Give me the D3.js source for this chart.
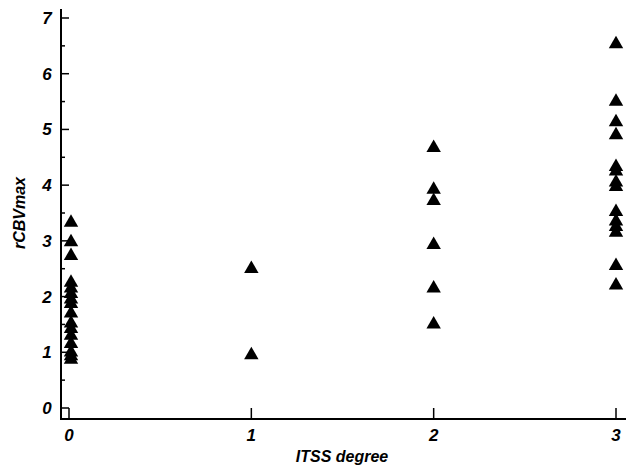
<!DOCTYPE html>
<html><head><meta charset="utf-8">
<script src="https://cdn.jsdelivr.net/npm/d3@7"></script>
<style>body{margin:0;background:#fff}svg{display:block}</style>
</head><body>
<script>
const categories = [0, 1, 2, 3];
const yTicks = [0, 1, 2, 3, 4, 5, 6, 7];
const itss0 = [3.33, 2.98, 2.73, 2.25, 2.15, 2.05, 1.95, 1.87, 1.7, 1.52, 1.42, 1.3, 1.15, 1.0, 0.93, 0.87];
const itss1 = [2.5, 0.95];
const itss2 = [4.67, 3.92, 3.72, 2.93, 2.15, 1.5];
const itss3 = [6.53, 5.5, 5.13, 4.9, 4.33, 4.25, 4.05, 3.97, 3.52, 3.35, 3.25, 3.15, 2.55, 2.2];
const seriesByCat = [itss0, itss1, itss2, itss3];

const W = 626, H = 470;
const svg = d3.select("body").append("svg").attr("width", W).attr("height", H);
const x = d3.scaleLinear().domain([0, 3]).range([69, 616]);
const y = d3.scaleLinear().domain([0, 7]).range([408, 18]);
const font = "'Liberation Sans', Arial, sans-serif";

svg.append("line").attr("x1", 61).attr("x2", 61).attr("y1", 9).attr("y2", 420)
  .attr("stroke", "#000").attr("stroke-width", 2);
svg.append("line").attr("x1", 60).attr("x2", 626).attr("y1", 419).attr("y2", 419)
  .attr("stroke", "#000").attr("stroke-width", 2);

const yMinor = d3.range(0.5, 7, 1);
svg.selectAll(".ymaj").data(yTicks).enter().append("line")
  .attr("x1", 61).attr("x2", 69).attr("y1", d => y(d)).attr("y2", d => y(d))
  .attr("stroke", "#000").attr("stroke-width", 1.5);
svg.selectAll(".ymin").data(yMinor).enter().append("line")
  .attr("x1", 61).attr("x2", 65).attr("y1", d => y(d)).attr("y2", d => y(d))
  .attr("stroke", "#000").attr("stroke-width", 1.5);
svg.selectAll(".ylab").data(yTicks).enter().append("text")
  .attr("x", 47).attr("y", d => y(d) + 6).attr("text-anchor", "middle")
  .attr("font-family", font).attr("font-weight", "bold").attr("font-style", "italic")
  .attr("font-size", 17).text(d => d);

svg.selectAll(".xt").data(categories).enter().append("line")
  .attr("x1", d => x(d)).attr("x2", d => x(d)).attr("y1", 419).attr("y2", 408)
  .attr("stroke", "#000").attr("stroke-width", 1.5);
svg.selectAll(".xlab").data(categories).enter().append("text")
  .attr("x", d => x(d)).attr("y", 441).attr("text-anchor", "middle")
  .attr("font-family", font).attr("font-weight", "bold").attr("font-style", "italic")
  .attr("font-size", 17).text(d => d);

svg.append("text").attr("x", 342).attr("y", 462).attr("text-anchor", "middle")
  .attr("font-family", font).attr("font-weight", "bold").attr("font-style", "italic")
  .attr("font-size", 16).text("ITSS degree");
svg.append("text").attr("transform", "translate(25,213) rotate(-90)").attr("text-anchor", "middle")
  .attr("font-family", font).attr("font-weight", "bold").attr("font-style", "italic")
  .attr("font-size", 16).text("rCBVmax");

const pts = [];
seriesByCat.forEach((vals, i) => vals.forEach(v => pts.push({c: categories[i], v})));
const tri = d3.symbol().type(d3.symbolTriangle).size(90);
svg.selectAll(".pt").data(pts).enter().append("path")
  .attr("d", tri)
  .attr("transform", d => `translate(${x(d.c) + (d.c === 0 ? 2 : 0)},${y(d.v)})`)
  .attr("fill", "#000");
</script>
</body></html>
